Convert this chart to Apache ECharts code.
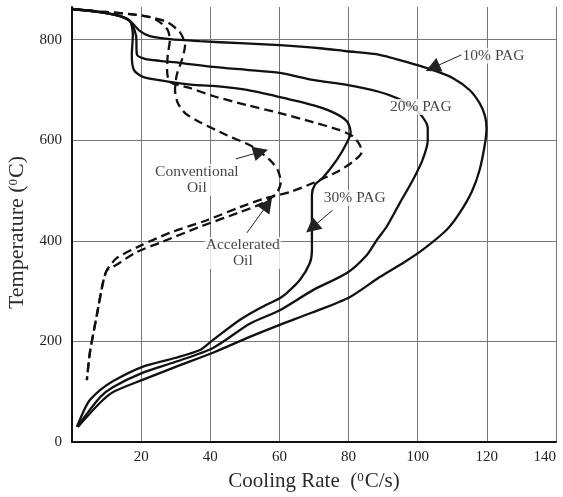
<!DOCTYPE html>
<html>
<head>
<meta charset="utf-8">
<script src="https://cdn.jsdelivr.net/npm/echarts@6/dist/echarts.min.js"></script>
<style>
  html, body { margin: 0; padding: 0; background: #fff; }
  #chart { width: 563px; height: 497px; }
</style>
</head>
<body>
<div id="chart"></div>
<script>
// Cooling-rate curves: [cooling rate (°C/s), temperature (°C)]
const pag10 = [
  [0, 861], [8.1, 855], [13.9, 847], [16.8, 837], [19.7, 817], [22.5, 807], [28.3, 801],
  [37.0, 797], [48.6, 793], [60.1, 789], [71.7, 783], [79.5, 777], [89.0, 770], [98.6, 752],
  [104.3, 740], [110.1, 724], [115.0, 700], [117.9, 674], [119.4, 650], [119.9, 624],
  [119.4, 591], [117.9, 541], [115.6, 497], [112.1, 455], [108.4, 422], [101.4, 382],
  [96.2, 358], [89.0, 328], [80.3, 288], [69.7, 258], [60.1, 233], [51.4, 209], [41.3, 179],
  [29.8, 149], [20.2, 123], [11.8, 99], [8.1, 78], [1.7, 30]
];
const pag20 = [
  [0, 861], [8.1, 855], [13.9, 847], [16.8, 837], [18.5, 809], [18.8, 770], [21.1, 762],
  [25.4, 758], [31.2, 754], [40.8, 746], [50.6, 740], [60.1, 734], [69.7, 720], [79.5, 710],
  [89.0, 696], [93.9, 684], [97.7, 670], [101.2, 648], [102.9, 624], [102.9, 600],
  [101.4, 561], [98.6, 521], [94.8, 475], [91.0, 428], [88.2, 402], [85.3, 372], [79.5, 336],
  [69.7, 302], [60.1, 262], [51.4, 235], [40.8, 187], [29.8, 159], [20.2, 137], [11.8, 109],
  [8.1, 89], [1.7, 32]
];
const pag30 = [
  [0, 861], [8.1, 855], [13.9, 847], [16.8, 837], [17.6, 809], [17.3, 770], [17.9, 740],
  [20.5, 726], [28.3, 716], [35.0, 710], [40.8, 708], [50.6, 700], [60.1, 686], [69.7, 670],
  [75.4, 656], [79.5, 638], [80.6, 616], [79.5, 595], [76.6, 561], [72.5, 525], [70.2, 511],
  [69.4, 491], [69.4, 382], [68.8, 356], [65.9, 322], [62.1, 296], [60.1, 286], [54.3, 266],
  [48.6, 243], [40.8, 203], [37.0, 183], [29.8, 167], [20.2, 149], [11.8, 121], [8.1, 103],
  [4.6, 78], [1.4, 30]
];
const conventionalOil = [
  [0, 861], [8.1, 856], [16.8, 851], [22.5, 845], [27.5, 835], [31.2, 815], [32.7, 789],
  [31.8, 760], [30.3, 730], [29.8, 700], [30.6, 674], [32.7, 654], [37.0, 636], [44.8, 610],
  [52.3, 587], [57.2, 561], [59.5, 541], [60.4, 517], [59.2, 495], [55.2, 475], [48.6, 457],
  [37.0, 428], [25.4, 396], [18.8, 378], [11.8, 348], [10.1, 342], [9.0, 318], [7.2, 253],
  [5.2, 179], [4.3, 123]
];
const acceleratedOil = [
  [0, 861], [8.1, 856], [16.8, 851], [22.5, 845], [25.4, 835], [27.7, 819], [28.3, 799],
  [27.7, 770], [27.5, 740], [28.3, 716], [34.1, 704], [40.8, 688], [50.6, 670], [60.1, 654],
  [69.7, 636], [77.5, 620], [81.2, 608], [83.2, 591], [83.8, 577], [81.2, 557], [76.6, 537],
  [69.7, 515], [63.0, 497], [55.2, 483], [48.6, 467], [39.0, 441], [28.3, 416], [19.7, 390],
  [13.0, 366], [10.1, 342], [9.0, 318], [7.2, 253], [5.2, 179], [4.3, 123]
];

// Curve labels: [rate, temperature, text, alignment]
const curveLabels = [
  [112.7, 768, '10% PAG', 'left'],
  [100.9, 666, '20% PAG', 'center'],
  [81.8, 485, '30% PAG', 'center'],
  [36.1, 521, 'Conventional\nOil', 'center'],
  [49.4, 376, 'Accelerated\nOil', 'center']
];
// Leader arrows: [from, to] in data units
const leaderArrows = [
  [[112.7, 770], [104.3, 744]],
  [[75.4, 461], [69.4, 426]],
  [[47.4, 563], [54.6, 577]],
  [[50.6, 416], [56.6, 473]]
];

const xTicks = { min: 0, max: 140, step: 20 };
const yTicks = { min: 0, max: 865, step: 200 };

const serif = '"Liberation Serif", "DejaVu Serif", serif';
const ink = '#111';

function curve(name, data, dashed) {
  return {
    name: name,
    type: 'line',
    data: data,
    smooth: 0.25,
    showSymbol: false,
    clip: false,
    lineStyle: { color: ink, width: 2.3, type: dashed ? [9, 5] : 'solid' },
    z: 3
  };
}

const chart = echarts.init(document.getElementById('chart'), null, { renderer: 'canvas' });
chart.setOption({
  animation: false,
  backgroundColor: '#fff',
  grid: { left: 72, right: 7, top: 7, bottom: 55, containLabel: false, outerBoundsMode: 'none' },
  xAxis: {
    type: 'value',
    min: xTicks.min, max: xTicks.max, interval: xTicks.step,
    name: '{n|Cooling Rate  (}{s|0}{n|C/s)}',
    nameLocation: 'middle',
    nameGap: 29,
    nameTextStyle: {
      rich: {
        n: { fontFamily: serif, fontSize: 21, color: '#2a2a2a' },
        s: { fontFamily: serif, fontSize: 13, color: '#2a2a2a', verticalAlign: 'top', padding: [0, 1, 6, 0] }
      }
    },
    axisLine: { lineStyle: { color: ink, width: 2 } },
    axisTick: { show: false },
    axisLabel: { showMinLabel: false, alignMaxLabel: 'right', fontFamily: serif, fontSize: 15, color: '#222', margin: 8 },
    splitLine: { lineStyle: { color: '#777', width: 1 } }
  },
  yAxis: {
    type: 'value',
    min: yTicks.min, max: yTicks.max, interval: yTicks.step,
    name: '{n|Temperature (}{s|0}{n|C)}',
    nameLocation: 'middle',
    nameGap: 37,
    nameTextStyle: {
      padding: [0, 16, 0, 0],
      rich: {
        n: { fontFamily: serif, fontSize: 22, color: '#2a2a2a' },
        s: { fontFamily: serif, fontSize: 13, color: '#2a2a2a', verticalAlign: 'top', padding: [0, 1, 6, 0] }
      }
    },
    axisLine: { show: true, lineStyle: { color: ink, width: 2 } },
    axisTick: { show: false },
    axisLabel: { showMaxLabel: false, fontFamily: serif, fontSize: 15, color: '#222', margin: 10 },
    splitLine: { showMaxLine: false, lineStyle: { color: '#777', width: 1 } }
  },
  series: [
    curve('10% PAG', pag10, false),
    curve('20% PAG', pag20, false),
    curve('30% PAG', pag30, false),
    curve('Conventional Oil', conventionalOil, true),
    curve('Accelerated Oil', acceleratedOil, true),
    {
      name: 'labels',
      type: 'scatter',
      symbolSize: 0,
      z: 10,
      data: curveLabels.map(d => ({
        value: [d[0], d[1]],
        label: {
          show: true,
          position: 'inside',
          align: d[3],
          formatter: d[2],
          fontFamily: serif,
          fontSize: 15.5,
          lineHeight: 16,
          color: '#151515',
          backgroundColor: '#fff',
          padding: [0, 1]
        }
      })),
      markLine: {
        silent: true,
        symbol: ['none', 'triangle'],
        symbolSize: 15,
        label: { show: false },
        lineStyle: { color: '#222', width: 1, type: 'solid' },
        itemStyle: { color: ink },
        data: leaderArrows.map(a => [{ coord: a[0] }, { coord: a[1] }])
      }
    }
  ]
});
</script>
</body>
</html>
